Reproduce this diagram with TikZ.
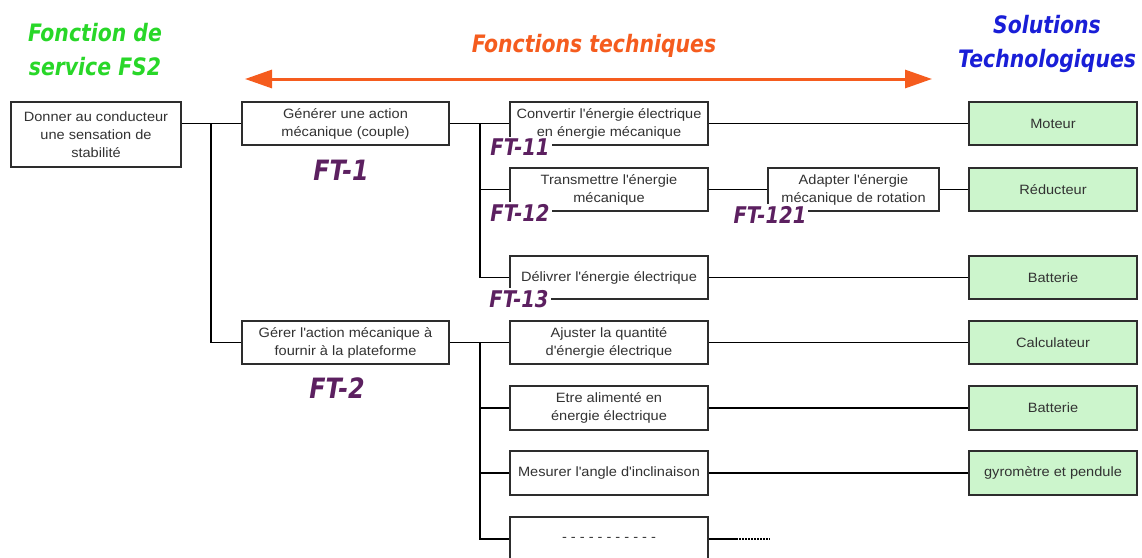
\documentclass[tikz,border=0pt]{standalone}
\usepackage{fontspec}
\setmainfont[FakeStretch=1.08]{Liberation Sans}
\newfontfamily\comicfont[FakeStretch=0.85]{DejaVu Sans}
\usetikzlibrary{arrows.meta}

\definecolor{fsgreen}{RGB}{40,215,40}
\definecolor{ftorange}{RGB}{245,92,30}
\definecolor{stblue}{RGB}{25,30,215}
\definecolor{ftpurple}{RGB}{92,32,96}
\definecolor{solgreen}{RGB}{204,245,204}
\definecolor{boxgray}{RGB}{45,45,45}
\definecolor{textgray}{RGB}{50,50,50}

\newcommand\diagboxfont{\fontsize{13.5}{18}\selectfont}
\newcommand\headfont{\comicfont\bfseries\itshape\fontsize{24}{34}\selectfont}
% straight apostrophe
\newcommand\q{\textquotesingle}

\begin{document}
\begin{tikzpicture}[x=1pt,y=-1pt,
  fnbox/.style={draw=boxgray, line width=1.5pt, fill=white, align=center,
    inner sep=0pt, font=\diagboxfont, text=textgray,
    minimum height=43pt, minimum width=198pt},
  solbox/.style={fnbox, fill=solgreen, minimum width=168pt},
  link/.style={draw=black, line width=1.4pt},
  ftlabel/.style={fill=white, inner sep=2pt, text=ftpurple,
    font=\comicfont\bfseries\itshape\fontsize{23}{23}\selectfont},
  ftbig/.style={ftlabel, font=\comicfont\bfseries\itshape\fontsize{28}{28}\selectfont},
  heading/.style={align=center, inner sep=0pt, font=\headfont}
]
\path[use as bounding box] (0,0) rectangle (1142,557);
\clip (0,0) rectangle (1142,557);

% headings
\node[heading, text=fsgreen] (hfs) at (95,50) {Fonction de\\service FS2};
\node[heading, text=ftorange] (hft) at (594,46) {Fonctions techniques};
\node[heading, text=stblue] (hst) at (1047,44) {Solutions\\Technologiques};

% double arrow spanning the technical functions
\coordinate (arl) at (245,79);
\coordinate (arr) at (932,79);
\draw[ftorange, line width=3pt,
  {Triangle[length=27pt,width=18pt]}-{Triangle[length=27pt,width=18pt]}]
  (arl) -- (arr);

% service function
\node[fnbox, minimum width=170pt, minimum height=65pt] (fs) at (96,134.5)
  {Donner au conducteur\\une sensation de\\stabilité};

% first level technical functions
\node[fnbox, minimum width=207pt] (ft1) at (345.5,123.5) {Générer une action\\mécanique (couple)};
\node[fnbox, minimum width=207pt] (ft2) at (345.5,342.5) {Gérer l\q action mécanique à\\fournir à la plateforme};

% second level technical functions
\node[fnbox] (ft11) at (609,123.5) {Convertir l\q énergie électrique\\en énergie mécanique};
\node[fnbox] (ft12) at (609,189.5) {Transmettre l\q énergie\\mécanique};
\node[fnbox] (ft13) at (609,277.5) {Délivrer l\q énergie électrique};
\node[fnbox] (ft21) at (609,342.5) {Ajuster la quantité\\d\q énergie électrique};
\node[fnbox, minimum height=44pt] (ft22) at (609,408) {Etre alimenté en\\énergie électrique};
\node[fnbox, minimum height=44pt] (ft23) at (609,473) {Mesurer l\q angle d\q inclinaison};
\node[fnbox, minimum height=44pt] (ft24) at (609,539) {- - - - - - - - - - -};

% third level
\node[fnbox, minimum width=171pt] (ft121) at (853.5,189.5) {Adapter l\q énergie\\mécanique de rotation};

% technological solutions
\node[solbox] (moteur) at (1053,123.5) {Moteur};
\node[solbox] (reduc) at (1053,189.5) {Réducteur};
\node[solbox] (batt) at (1053,277.5) {Batterie};
\node[solbox] (calc) at (1053,342.5) {Calculateur};
\node[solbox, minimum height=44pt] (batt2) at (1053,408) {Batterie};
\node[solbox, minimum height=44pt] (gyro) at (1053,473) {gyromètre et pendule};

% tree connectors
\coordinate (j1) at (211,123.5);
\coordinate (j2) at (480,123.5);
\coordinate (j3) at (480,342.5);
\draw[link] (ft1.west -| fs.east) -- (ft1.west);
\draw[link] (j1) |- (ft2.west);
\draw[link] (ft1.east) -- (ft11.west);
\draw[link] (j2) |- (ft12.west);
\draw[link] (j2) |- (ft13.west);
\draw[link] (ft2.east) -- (ft21.west);
\draw[link] (j3) |- (ft22.west);
\draw[link] (j3) |- (ft23.west);
\draw[link] (j3) |- (ft24.west);

% links to solutions
\draw[link] (ft11.east) -- (moteur.west);
\draw[link] (ft12.east) -- (ft121.west);
\draw[link] (ft121.east) -- (reduc.west);
\draw[link] (ft13.east) -- (batt.west);
\draw[link] (ft21.east) -- (calc.west);
\draw[link] (ft22.east) -- (batt2.west);
\draw[link] (ft23.east) -- (gyro.west);
\coordinate (openmid) at (736,539);
\coordinate (openend) at (770,539);
\draw[link] (ft24.east) -- (openmid);
\draw[link, line width=1.2pt, dash pattern=on 2pt off 1pt] (openmid) -- (openend);

% function labels
\node[ftbig] (l1) at (341,170) {FT-1};
\node[ftbig] (l2) at (337,388) {FT-2};
\node[ftlabel] (l11) at (520,147) {FT-11};
\node[ftlabel] (l12) at (520,213) {FT-12};
\node[ftlabel] (l13) at (519,299) {FT-13};
\node[ftlabel] (l121) at (770,215) {FT-121};
\end{tikzpicture}
\end{document}
